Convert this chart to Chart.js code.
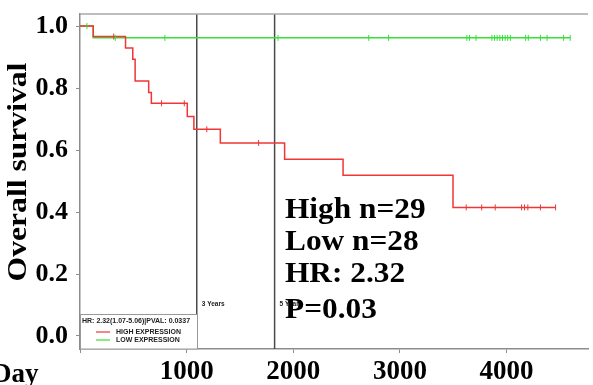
<!DOCTYPE html>
<html>
<head>
<meta charset="utf-8">
<title>Overall survival</title>
<script src="https://cdn.jsdelivr.net/npm/chart.js@4.4.1/dist/chart.umd.min.js"></script>
<style>
  html, body { margin: 0; padding: 0; background: #fff; overflow: hidden; }
  canvas { display: block; }
</style>
</head>
<body>
<canvas id="km" width="593" height="385"></canvas>
<script>
'use strict';

/* ============================================================
   DATA
   ============================================================ */
const highDays   = [0, 124, 427, 495, 517, 644, 669, 1006, 1068, 1316, 1919, 2467, 3498, 4460];
const highSurv   = [1, 0.966, 0.929, 0.893, 0.823, 0.786, 0.751, 0.708, 0.667, 0.623, 0.570, 0.519, 0.415, 0.415];
const highCensor = [316, 764, 978, 1189, 1675, 3622, 3767, 3894, 4141, 4169, 4200, 4318, 4460];

const lowDays   = [0, 124, 4597];
const lowSurv   = [1, 0.962, 0.962];
const lowCensor = [65, 331, 796, 1857, 2708, 2894, 3628, 3652, 3714, 3863, 3888, 3912,
                   3937, 3962, 3987, 4011, 4036, 4179, 4204, 4318, 4380, 4535, 4597];

const yearMarks  = [1095, 1825];
const yearLabels = ['3 Years', '5 Years'];

const xTicks = [0, 1000, 2000, 3000, 4000];
const yTicks = [0, 0.2, 0.4, 0.6, 0.8, 1.0];

const statLines   = ['High n=29', 'Low n=28', 'HR: 2.32', 'P=0.03'];
const legendTitle = 'HR: 2.32(1.07-5.06)|PVAL: 0.0337';
const legendNames = ['HIGH EXPRESSION', 'LOW EXPRESSION'];

/* ============================================================
   STYLE
   ============================================================ */
const RED   = '#f03636';
const GREEN = '#36e036';
const AXIS  = '#8c8c8c';
const SERIF = '"Liberation Serif", "Times New Roman", serif';
const SANS  = '"Liberation Sans", Arial, sans-serif';

const X_MAX = 4764, Y_MIN = -0.042, Y_MAX = 1.039;

/* KM level at time t (last step at or before t) */
function levelAt(days, surv, t) {
  let v = surv[0];
  for (let i = 0; i < days.length; i++) { if (days[i] <= t) v = surv[i]; }
  return v;
}

function curve(days, surv) {
  return days.map(function (d, i) { return { x: d, y: surv[i] }; });
}

function censorPts(marks, days, surv) {
  return marks.map(function (d) { return { x: d, y: levelAt(days, surv, d) }; });
}

const yearSets = yearMarks.map(function (d) {
  return {
    data: [{ x: d, y: Y_MIN }, { x: d, y: Y_MAX }],
    borderColor: '#4a4a4a', borderWidth: 1.5, pointRadius: 0, order: 5
  };
});

/* ============================================================
   OVERLAY – frame, labels, legend box, stats text
   ============================================================ */
const overlay = {
  id: 'overlay',
  afterDraw(chart) {
    const ctx = chart.ctx, a = chart.chartArea, x = chart.scales.x;
    ctx.save();

    /* top frame line */
    ctx.strokeStyle = '#a8a8a8';
    ctx.lineWidth = 1.5;
    ctx.beginPath(); ctx.moveTo(a.left, a.top); ctx.lineTo(a.right, a.top); ctx.stroke();

    /* 3 / 5 year labels */
    ctx.fillStyle = '#222';
    ctx.font = 'bold 6.5px ' + SANS;
    ctx.textBaseline = 'middle';
    yearMarks.forEach(function (d, i) {
      ctx.fillText(yearLabels[i], x.getPixelForValue(d) + 5, 304);
    });

    /* legend box */
    ctx.fillStyle = '#fff';
    ctx.fillRect(a.left, 314, 117, a.bottom - 314);
    ctx.strokeStyle = '#999';
    ctx.lineWidth = 1;
    ctx.strokeRect(a.left + 0.5, 314.5, 117, a.bottom - 314.5);
    ctx.fillStyle = '#222';
    ctx.font = 'bold 7px ' + SANS;
    ctx.fillText(legendTitle, a.left + 2, 321.5);
    [RED, GREEN].forEach(function (c, i) {
      const yy = 332 + i * 8;
      ctx.strokeStyle = c; ctx.lineWidth = 1.2;
      ctx.beginPath(); ctx.moveTo(a.left + 16, yy); ctx.lineTo(a.left + 30, yy); ctx.stroke();
      ctx.fillText(legendNames[i], a.left + 36, yy);
    });

    /* stats text */
    ctx.fillStyle = '#000';
    ctx.textBaseline = 'alphabetic';
    ctx.font = 'bold 29px ' + SERIF;
    [218, 250, 282, 318].forEach(function (base, i) {
      ctx.save();
      ctx.translate(285, base);
      ctx.scale(1.08, 1);
      ctx.fillText(statLines[i], 0, 0);
      ctx.restore();
    });

    /* y title */
    ctx.save();
    ctx.translate(26, 172);
    ctx.rotate(-Math.PI / 2);
    ctx.scale(1.13, 1);
    ctx.font = 'bold 28px ' + SERIF;
    ctx.textAlign = 'center';
    ctx.fillText('Overall survival', 0, 0);
    ctx.restore();

    /* x title */
    ctx.font = 'bold 27px ' + SERIF;
    ctx.textAlign = 'left';
    ctx.fillText('Day', -8, 382);

    ctx.restore();
  }
};

/* ============================================================
   CHART
   ============================================================ */
new Chart(document.getElementById('km'), {
  type: 'line',
  data: {
    datasets: [
      { data: curve(highDays, highSurv), borderColor: RED, borderWidth: 1.5,
        stepped: true, pointRadius: 0, order: 1 },
      { data: curve(lowDays, lowSurv), borderColor: GREEN, borderWidth: 1.5,
        stepped: true, pointRadius: 0, order: 2 },
      { data: censorPts(highCensor, highDays, highSurv), showLine: false,
        pointStyle: 'line', rotation: 90, pointRadius: 3, borderColor: RED, borderWidth: 1, order: 0 },
      { data: censorPts(lowCensor, lowDays, lowSurv), showLine: false,
        pointStyle: 'line', rotation: 90, pointRadius: 3, borderColor: GREEN, borderWidth: 1, order: 0 }
    ].concat(yearSets)
  },
  options: {
    responsive: false,
    animation: false,
    layout: { padding: { top: 14, right: 0, left: 0, bottom: 0 } },
    plugins: { legend: { display: false }, tooltip: { enabled: false } },
    scales: {
      x: {
        type: 'linear', min: 0, max: X_MAX,
        afterFit: function (s) { s.height = 36; s.paddingLeft = 0; s.paddingRight = 0; },
        afterBuildTicks: function (s) { s.ticks = xTicks.map(function (v) { return { value: v }; }); },
        grid: { drawOnChartArea: false, drawTicks: true, tickLength: 4, color: AXIS },
        border: { color: AXIS, width: 1.5 },
        ticks: {
          padding: 3, color: '#000', maxRotation: 0,
          font: { family: SERIF, size: 27, weight: 'bold' },
          callback: function (v) { return v === 0 ? '' : String(v); }
        }
      },
      y: {
        min: Y_MIN, max: Y_MAX,
        afterFit: function (s) { s.width = 80; s.paddingTop = 0; s.paddingBottom = 0; },
        afterBuildTicks: function (s) { s.ticks = yTicks.map(function (v) { return { value: v }; }); },
        grid: { drawOnChartArea: false, drawTicks: true, tickLength: 4, color: AXIS },
        border: { color: AXIS, width: 1.5 },
        ticks: {
          padding: 8, color: '#000',
          font: { family: SERIF, size: 26, weight: 'bold' },
          callback: function (v) { return v.toFixed(1); }
        }
      }
    }
  },
  plugins: [overlay]
});
</script>
</body>
</html>
